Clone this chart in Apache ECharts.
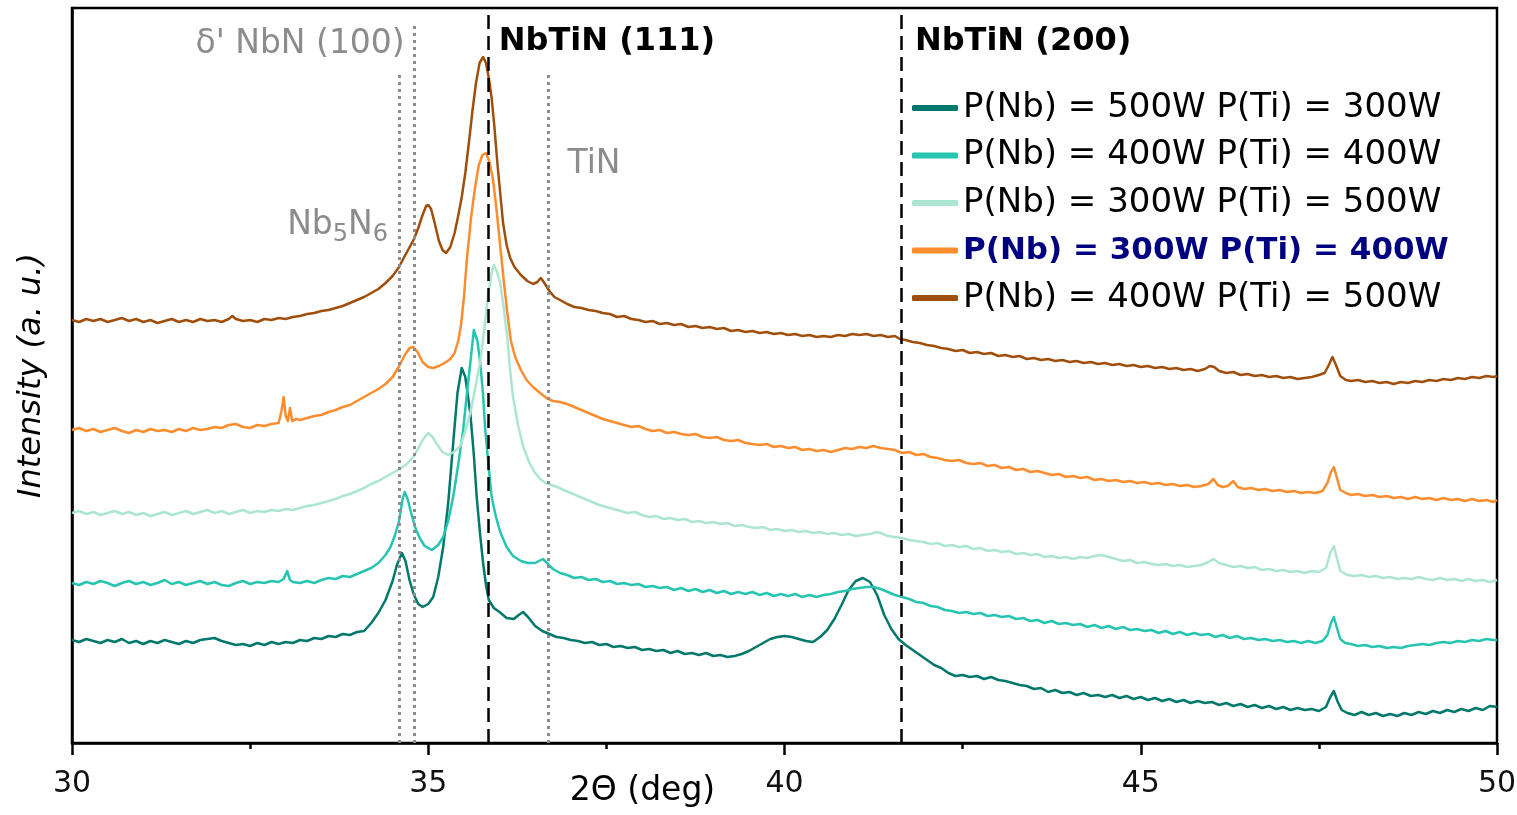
<!DOCTYPE html>
<html><head><meta charset="utf-8">
<script src="https://cdn.jsdelivr.net/npm/echarts@6/dist/echarts.min.js"></script>
<style>html,body{margin:0;padding:0;background:#fff}#chart{width:1517px;height:815px}</style>
</head><body><div id="chart"></div>
<script>
// ---- DATA (2θ in degrees, intensity in arbitrary units) ----
const legendNames = [
  'P(Nb) = 500W P(Ti) = 300W',
  'P(Nb) = 400W P(Ti) = 400W',
  'P(Nb) = 300W P(Ti) = 500W',
  'P(Nb) = 300W P(Ti) = 400W',
  'P(Nb) = 400W P(Ti) = 500W'
];

const s500_300 = [[30.0,103],[30.1,101],[30.2,104],[30.3,102],[30.4,100],[30.5,103],[30.6,101],[30.7,104],[30.8,100],[30.9,102],[31.0,99],[31.1,102],[31.2,100],[31.3,103],[31.4,101],[31.5,99],[31.6,102],[31.7,100],[31.8,103],[31.9,104],[32.0,105],[32.1,102],[32.2,100],[32.3,98],[32.4,99],[32.5,97],[32.6,100],[32.7,98],[32.8,101],[32.9,99],[33.0,101],[33.1,100],[33.2,103],[33.3,102],[33.4,105],[33.5,104],[33.6,107],[33.7,106],[33.8,109],[33.9,108],[34.0,111],[34.1,112],[34.2,120],[34.3,130],[34.4,143],[34.5,162],[34.56,178],[34.63,190],[34.68,182],[34.74,162],[34.8,148],[34.86,139],[34.92,136],[35.0,139],[35.07,146],[35.14,166],[35.21,196],[35.28,240],[35.35,300],[35.41,350],[35.47,375],[35.52,366],[35.59,330],[35.64,288],[35.68,246],[35.73,207],[35.77,180],[35.81,158],[35.85,143],[35.92,135],[36.0,131],[36.1,125],[36.2,124],[36.27,128],[36.33,131],[36.4,126],[36.5,117],[36.6,112],[36.7,109],[36.8,106],[36.9,105],[37.0,103],[37.1,102],[37.2,100],[37.3,101],[37.4,98],[37.5,99],[37.6,96],[37.7,97],[37.8,95],[37.9,96],[38.0,93],[38.1,94],[38.2,92],[38.3,93],[38.4,90],[38.5,92],[38.6,89],[38.7,90],[38.8,88],[38.9,90],[39.0,87],[39.1,88],[39.2,86],[39.3,87],[39.4,89],[39.5,92],[39.6,96],[39.7,100],[39.8,104],[39.9,106],[40.0,107],[40.1,106],[40.2,104],[40.3,102],[40.4,101],[40.5,106],[40.6,113],[40.7,124],[40.8,138],[40.9,153],[41.0,162],[41.1,165],[41.2,161],[41.3,148],[41.4,128],[41.5,114],[41.6,104],[41.7,98],[41.8,93],[41.9,88],[42.0,83],[42.1,78],[42.2,75],[42.3,70],[42.4,67],[42.5,68],[42.6,66],[42.7,67],[42.8,64],[42.9,66],[43.0,63],[43.1,62],[43.2,60],[43.3,58],[43.4,57],[43.5,54],[43.6,55],[43.7,51],[43.8,53],[43.9,50],[44.0,51],[44.1,48],[44.2,50],[44.3,47],[44.4,48],[44.5,46],[44.6,48],[44.7,45],[44.8,47],[44.9,44],[45.0,46],[45.1,43],[45.2,45],[45.3,42],[45.4,44],[45.5,41],[45.6,43],[45.7,40],[45.8,42],[45.9,40],[46.0,41],[46.1,38],[46.2,40],[46.3,37],[46.4,39],[46.5,36],[46.6,38],[46.7,35],[46.8,37],[46.9,34],[47.0,36],[47.1,33],[47.2,35],[47.3,33],[47.4,34],[47.5,32],[47.6,36],[47.66,46],[47.71,52],[47.76,42],[47.82,33],[47.9,30],[48.0,28],[48.1,31],[48.2,28],[48.3,30],[48.4,27],[48.5,29],[48.6,27],[48.7,30],[48.8,28],[48.9,31],[49.0,29],[49.1,32],[49.2,30],[49.3,33],[49.4,31],[49.5,34],[49.6,32],[49.7,35],[49.8,33],[49.9,37],[50.0,36]];

const s400_400 = [[30.0,160],[30.1,158],[30.2,161],[30.3,159],[30.4,162],[30.5,160],[30.6,157],[30.7,160],[30.8,162],[30.9,159],[31.0,161],[31.1,158],[31.2,160],[31.3,163],[31.4,159],[31.5,161],[31.6,158],[31.7,160],[31.8,162],[31.9,159],[32.0,161],[32.1,158],[32.2,157],[32.3,160],[32.4,162],[32.5,159],[32.6,161],[32.7,160],[32.8,162],[32.9,161],[32.97,164],[33.02,172],[33.06,163],[33.1,161],[33.2,160],[33.3,162],[33.4,160],[33.5,163],[33.6,165],[33.7,164],[33.8,167],[33.9,166],[34.0,169],[34.1,172],[34.2,175],[34.3,180],[34.4,188],[34.47,196],[34.53,207],[34.59,222],[34.64,244],[34.67,251],[34.71,244],[34.76,230],[34.82,215],[34.88,205],[34.95,197],[35.05,193],[35.14,198],[35.21,206],[35.28,222],[35.35,246],[35.42,278],[35.49,313],[35.54,348],[35.59,380],[35.64,413],[35.69,402],[35.73,380],[35.77,348],[35.8,313],[35.85,275],[35.89,246],[35.95,226],[36.01,211],[36.1,196],[36.19,187],[36.3,182],[36.4,180],[36.5,180],[36.61,184],[36.68,179],[36.75,174],[36.85,170],[36.95,168],[37.05,165],[37.15,166],[37.25,163],[37.35,164],[37.45,161],[37.55,162],[37.65,159],[37.75,160],[37.85,158],[37.95,159],[38.05,156],[38.15,157],[38.25,155],[38.35,156],[38.45,153],[38.55,155],[38.65,152],[38.75,154],[38.85,151],[38.95,153],[39.05,150],[39.15,152],[39.25,149],[39.35,151],[39.45,149],[39.55,151],[39.65,148],[39.75,150],[39.85,147],[39.95,149],[40.05,147],[40.15,149],[40.25,146],[40.35,148],[40.45,146],[40.55,148],[40.65,149],[40.75,151],[40.85,152],[40.95,154],[41.05,155],[41.15,156],[41.25,156],[41.35,154],[41.45,151],[41.55,148],[41.65,146],[41.75,144],[41.85,141],[41.95,140],[42.05,137],[42.15,136],[42.25,133],[42.35,132],[42.45,130],[42.55,131],[42.65,129],[42.75,130],[42.85,127],[42.95,128],[43.05,126],[43.15,127],[43.25,124],[43.35,125],[43.45,122],[43.55,123],[43.65,120],[43.75,122],[43.85,119],[43.95,120],[44.05,118],[44.15,119],[44.25,116],[44.35,118],[44.45,115],[44.55,117],[44.65,114],[44.75,116],[44.85,113],[44.95,114],[45.05,112],[45.15,113],[45.25,110],[45.35,112],[45.45,109],[45.55,111],[45.65,108],[45.75,110],[45.85,108],[45.95,109],[46.05,106],[46.15,108],[46.25,105],[46.35,107],[46.45,104],[46.55,105],[46.65,103],[46.75,104],[46.85,102],[46.95,103],[47.05,101],[47.15,102],[47.25,100],[47.35,102],[47.45,100],[47.55,102],[47.62,108],[47.67,120],[47.71,126],[47.75,116],[47.8,104],[47.87,100],[47.95,99],[48.05,97],[48.15,98],[48.25,96],[48.35,97],[48.45,95],[48.55,96],[48.65,95],[48.75,97],[48.85,98],[48.95,99],[49.05,98],[49.15,100],[49.25,101],[49.35,100],[49.45,102],[49.55,101],[49.65,103],[49.75,102],[49.85,104],[49.95,103],[50.0,103]];

const s300_500 = [[30.0,230],[30.1,232],[30.2,229],[30.3,231],[30.4,228],[30.5,230],[30.6,232],[30.7,229],[30.8,231],[30.9,228],[31.0,230],[31.1,227],[31.2,229],[31.3,231],[31.4,228],[31.5,230],[31.6,232],[31.7,229],[31.8,231],[31.9,233],[32.0,230],[32.1,232],[32.2,229],[32.3,231],[32.4,233],[32.5,230],[32.6,232],[32.7,231],[32.8,233],[32.9,232],[33.0,234],[33.1,233],[33.2,235],[33.3,237],[33.4,238],[33.5,240],[33.6,242],[33.7,244],[33.8,247],[33.9,249],[34.0,252],[34.1,255],[34.2,259],[34.3,262],[34.4,266],[34.5,270],[34.6,274],[34.7,279],[34.8,287],[34.87,296],[34.93,304],[35.0,310],[35.06,306],[35.12,299],[35.2,291],[35.28,288],[35.36,291],[35.45,297],[35.52,312],[35.59,330],[35.66,355],[35.73,382],[35.78,410],[35.84,448],[35.89,470],[35.92,478],[35.96,472],[36.01,460],[36.06,435],[36.11,405],[36.15,372],[36.19,346],[36.26,318],[36.33,297],[36.42,280],[36.5,270],[36.57,264],[36.65,260],[36.73,258],[36.81,256],[36.9,253],[37.0,250],[37.1,247],[37.2,244],[37.3,241],[37.4,238],[37.5,236],[37.6,234],[37.7,232],[37.8,230],[37.9,231],[38.0,228],[38.1,226],[38.2,227],[38.3,224],[38.4,225],[38.5,223],[38.6,224],[38.7,221],[38.8,222],[38.9,220],[39.0,221],[39.1,219],[39.2,220],[39.3,217],[39.4,218],[39.5,216],[39.6,215],[39.7,216],[39.8,213],[39.9,214],[40.0,212],[40.1,213],[40.2,211],[40.3,212],[40.4,210],[40.5,211],[40.6,209],[40.7,210],[40.8,208],[40.9,209],[41.0,207],[41.1,208],[41.2,209],[41.3,211],[41.35,210],[41.45,207],[41.55,206],[41.65,205],[41.75,203],[41.85,202],[41.95,201],[42.05,199],[42.15,200],[42.25,197],[42.35,198],[42.45,196],[42.55,197],[42.65,194],[42.75,195],[42.85,192],[42.95,193],[43.05,191],[43.15,192],[43.25,189],[43.35,190],[43.45,188],[43.55,189],[43.65,186],[43.75,187],[43.85,185],[43.95,186],[44.05,184],[44.15,186],[44.25,185],[44.35,187],[44.45,188],[44.55,186],[44.65,184],[44.75,182],[44.85,183],[44.95,180],[45.05,181],[45.15,179],[45.25,178],[45.35,179],[45.45,177],[45.55,178],[45.65,176],[45.75,177],[45.85,178],[45.95,181],[46.02,184],[46.1,180],[46.2,178],[46.3,176],[46.4,177],[46.5,175],[46.6,176],[46.7,173],[46.8,174],[46.9,172],[47.0,173],[47.1,171],[47.2,172],[47.3,170],[47.4,172],[47.5,171],[47.6,175],[47.66,190],[47.71,197],[47.75,186],[47.8,172],[47.9,168],[48.0,167],[48.1,168],[48.2,166],[48.3,167],[48.4,165],[48.5,166],[48.6,164],[48.7,165],[48.8,164],[48.9,166],[49.0,164],[49.1,163],[49.2,165],[49.3,163],[49.4,164],[49.5,162],[49.6,164],[49.7,162],[49.8,163],[49.9,161],[50.0,163]];

const s300_400 = [[30.0,313],[30.1,315],[30.2,312],[30.3,314],[30.4,311],[30.5,313],[30.6,315],[30.7,312],[30.8,310],[30.9,313],[31.0,311],[31.1,314],[31.2,312],[31.3,313],[31.4,311],[31.5,314],[31.6,312],[31.7,315],[31.8,313],[31.9,314],[32.0,316],[32.1,315],[32.2,318],[32.3,319],[32.4,316],[32.5,315],[32.6,318],[32.7,317],[32.8,319],[32.9,320],[32.94,332],[32.97,346],[33.0,327],[33.03,322],[33.06,335],[33.09,322],[33.15,324],[33.2,323],[33.3,325],[33.4,327],[33.5,328],[33.6,331],[33.7,333],[33.8,336],[33.9,338],[34.0,342],[34.1,346],[34.2,350],[34.3,354],[34.4,359],[34.5,366],[34.6,378],[34.67,388],[34.74,395],[34.79,396],[34.85,391],[34.92,381],[35.0,376],[35.07,375],[35.15,377],[35.23,380],[35.31,384],[35.37,390],[35.42,402],[35.46,418],[35.5,445],[35.54,482],[35.6,525],[35.66,557],[35.71,578],[35.76,588],[35.81,590],[35.86,581],[35.91,563],[35.96,532],[36.01,497],[36.06,462],[36.11,430],[36.16,402],[36.22,386],[36.3,373],[36.38,363],[36.47,356],[36.57,350],[36.66,345],[36.75,342],[36.85,341],[36.95,339],[37.05,336],[37.15,333],[37.25,330],[37.35,327],[37.45,324],[37.55,322],[37.65,320],[37.75,318],[37.85,316],[37.95,317],[38.05,314],[38.15,312],[38.25,313],[38.35,310],[38.45,311],[38.55,309],[38.65,308],[38.75,309],[38.85,306],[38.95,305],[39.05,306],[39.15,303],[39.25,302],[39.35,303],[39.45,300],[39.55,299],[39.65,298],[39.75,299],[39.85,296],[39.95,297],[40.05,295],[40.15,296],[40.25,293],[40.35,294],[40.45,292],[40.55,293],[40.65,291],[40.75,293],[40.85,295],[40.95,294],[41.05,296],[41.15,295],[41.25,297],[41.35,295],[41.45,294],[41.55,293],[41.65,290],[41.75,291],[41.85,288],[41.95,289],[42.05,286],[42.15,285],[42.25,283],[42.35,282],[42.45,283],[42.55,280],[42.65,279],[42.75,280],[42.85,277],[42.95,278],[43.05,275],[43.15,276],[43.25,273],[43.35,274],[43.45,271],[43.55,272],[43.65,270],[43.75,268],[43.85,269],[43.95,266],[44.05,267],[44.15,265],[44.25,266],[44.35,263],[44.45,264],[44.55,262],[44.65,263],[44.75,261],[44.85,262],[44.95,260],[45.05,261],[45.15,259],[45.25,260],[45.35,258],[45.45,259],[45.55,257],[45.65,258],[45.75,256],[45.85,257],[45.95,259],[46.02,264],[46.08,258],[46.15,256],[46.22,257],[46.3,262],[46.36,256],[46.45,254],[46.55,255],[46.65,253],[46.75,254],[46.85,252],[46.95,253],[47.05,251],[47.15,252],[47.25,250],[47.35,251],[47.45,250],[47.55,252],[47.62,260],[47.67,271],[47.71,276],[47.75,266],[47.8,253],[47.88,250],[47.95,248],[48.05,249],[48.15,247],[48.25,248],[48.35,246],[48.45,247],[48.55,245],[48.65,246],[48.75,244],[48.85,246],[48.95,244],[49.05,245],[49.15,243],[49.25,245],[49.35,243],[49.45,244],[49.55,242],[49.65,244],[49.75,242],[49.85,243],[49.95,241],[50.0,243]];

const s400_500 = [[30.0,423],[30.1,421],[30.2,424],[30.3,422],[30.4,424],[30.5,421],[30.6,423],[30.7,425],[30.8,422],[30.9,424],[31.0,421],[31.1,423],[31.2,420],[31.3,422],[31.4,424],[31.5,421],[31.6,423],[31.7,421],[31.8,424],[31.9,422],[32.0,423],[32.1,421],[32.2,424],[32.25,427],[32.3,424],[32.4,422],[32.5,423],[32.6,421],[32.7,424],[32.8,423],[32.9,425],[33.0,424],[33.1,426],[33.2,427],[33.3,429],[33.4,430],[33.5,432],[33.6,433],[33.7,435],[33.8,437],[33.9,440],[34.0,443],[34.1,446],[34.2,450],[34.3,454],[34.4,460],[34.5,467],[34.59,476],[34.67,487],[34.74,496],[34.8,504],[34.86,515],[34.92,528],[34.97,537],[35.0,538],[35.04,534],[35.09,520],[35.15,502],[35.2,493],[35.25,490],[35.31,496],[35.37,510],[35.42,527],[35.47,546],[35.52,570],[35.57,600],[35.62,632],[35.67,660],[35.72,680],[35.77,686],[35.81,680],[35.85,665],[35.89,645],[35.93,615],[35.97,580],[36.01,550],[36.05,520],[36.1,498],[36.15,485],[36.21,476],[36.3,468],[36.39,462],[36.47,459],[36.53,461],[36.58,465],[36.63,460],[36.7,452],[36.77,446],[36.85,443],[36.95,439],[37.05,436],[37.15,435],[37.25,433],[37.35,432],[37.45,430],[37.55,429],[37.65,426],[37.75,427],[37.85,424],[37.95,423],[38.05,421],[38.15,422],[38.25,419],[38.35,420],[38.45,418],[38.55,419],[38.65,416],[38.75,417],[38.85,415],[38.95,416],[39.05,414],[39.15,415],[39.25,412],[39.35,413],[39.45,411],[39.55,412],[39.65,410],[39.75,411],[39.85,409],[39.95,410],[40.05,408],[40.15,409],[40.25,407],[40.35,408],[40.45,406],[40.55,407],[40.65,406],[40.75,408],[40.85,407],[40.95,409],[41.05,408],[41.15,409],[41.25,407],[41.35,408],[41.45,406],[41.55,407],[41.62,404],[41.7,403],[41.8,401],[41.9,400],[42.0,398],[42.1,397],[42.2,395],[42.3,394],[42.4,392],[42.5,393],[42.6,390],[42.7,391],[42.8,389],[42.9,390],[43.0,387],[43.1,388],[43.2,386],[43.3,387],[43.4,384],[43.5,385],[43.6,383],[43.7,384],[43.8,382],[43.9,383],[44.0,381],[44.1,382],[44.2,380],[44.3,381],[44.4,379],[44.5,380],[44.6,378],[44.7,379],[44.8,377],[44.9,378],[45.0,376],[45.1,377],[45.2,375],[45.3,376],[45.4,374],[45.5,375],[45.6,373],[45.7,374],[45.8,372],[45.9,374],[45.97,377],[46.03,376],[46.1,372],[46.2,370],[46.3,371],[46.4,368],[46.5,369],[46.6,367],[46.7,368],[46.8,366],[46.9,367],[47.0,365],[47.1,366],[47.2,364],[47.3,365],[47.4,366],[47.5,368],[47.58,370],[47.64,378],[47.69,386],[47.74,378],[47.8,367],[47.88,363],[47.95,362],[48.05,363],[48.15,361],[48.25,362],[48.35,360],[48.45,361],[48.55,359],[48.65,361],[48.75,360],[48.85,362],[48.95,361],[49.05,363],[49.15,362],[49.25,364],[49.35,363],[49.45,365],[49.55,364],[49.65,366],[49.75,365],[49.85,367],[49.95,366],[50.0,367]];

// reference peak positions (2θ) and how high each marker line reaches
const refX    = [34.59, 34.80, 36.69, 35.84, 41.64];
const refTop  = [670, 721, 670, 728, 729];
const refKind = ['dotted', 'dotted', 'dotted', 'dashed', 'dashed'];

// annotation texts
const annTexts = ["δ' NbN (100)", 'NbTiN (111)', 'NbTiN (200)', 'TiN', '{m|Nb}{s|5}{m|N}{s|6}'];

// ---- STYLE / LAYOUT ----
const FONT = 'DejaVu Sans';
const colors = ['#00786b', '#27c4b2', '#ace6d3', '#fc8d2e', '#a04e0c'];
const GRAY = '#8c8c8c';
const annPos = [
  {x: 34.67, y: 699, align: 'right', size: 33, weight: 'normal', color: GRAY},
  {x: 35.99, y: 701, align: 'left', size: 32, weight: 'bold', color: '#000'},
  {x: 41.83, y: 701, align: 'left', size: 32, weight: 'bold', color: '#000'},
  {x: 36.955, y: 579, align: 'left', size: 33, weight: 'normal', color: GRAY},
  {x: 34.435, y: 518, align: 'right', size: 33, weight: 'normal', color: GRAY}
];

const chart = echarts.init(document.getElementById('chart'), null, {renderer: 'canvas'});
const dataList = [s500_300, s400_400, s300_500, s300_400, s400_500];

const series = dataList.map((d, i) => ({
  name: legendNames[i], type: 'line', data: d, symbol: 'none', showSymbol: false,
  lineStyle: {width: 2.5, color: colors[i], join: 'round'}, itemStyle: {color: colors[i]},
  animation: false, z: 3
}));
series.push({
  type: 'line', data: [], z: 5, animation: false,
  markLine: {
    silent: true, symbol: ['none', 'none'], label: {show: false}, animation: false,
    data: refX.map((x, i) => [
      {coord: [x, 0], lineStyle: refKind[i] === 'dotted'
        ? {type: [3, 4], color: GRAY, width: 3}
        : {type: [14, 7], color: '#000', width: 2.5}},
      {coord: [x, refTop[i]]}
    ])
  }
});

const legendData = legendNames.map((n, i) => i === 3
  ? {name: n, textStyle: {color: '#000080', fontWeight: 'bold', fontSize: 31}}
  : {name: n});

chart.setOption({
  backgroundColor: '#fff',
  animation: false,
  grid: {left: 72, right: 20, top: 8, bottom: 72, containLabel: false, outerBoundsMode: 'none',
         show: true, borderColor: '#000', borderWidth: 2.5, backgroundColor: 'transparent'},
  legend: {
    data: legendData, orient: 'vertical', left: 907, top: 83,
    itemWidth: 46, itemHeight: 6, itemGap: 7.5, icon: 'roundRect',
    textStyle: {fontFamily: FONT, fontSize: 34, color: '#000', lineHeight: 40},
    selectedMode: false
  },
  xAxis: {
    type: 'value', min: 30, max: 50, interval: 5,
    name: '2Θ (deg)', nameLocation: 'middle', nameGap: 32, nameMoveOverlap: false,
    nameTextStyle: {fontFamily: FONT, fontSize: 33, color: '#000', padding: [0, 284, 0, 0]},
    axisLine: {show: true, lineStyle: {color: '#000', width: 2.5}},
    axisTick: {show: true, inside: false, length: 12, lineStyle: {color: '#000', width: 2.5}},
    minorTick: {show: true, splitNumber: 2, length: 6, lineStyle: {color: '#000', width: 2.5}},
    axisLabel: {fontFamily: FONT, fontSize: 30, color: '#111', margin: 26},
    splitLine: {show: false}
  },
  yAxis: {
    type: 'value', min: 0, max: 735,
    name: 'Intensity (a. u.)', nameLocation: 'middle', nameGap: 24, nameMoveOverlap: false,
    nameTextStyle: {fontFamily: FONT, fontSize: 32, fontStyle: 'italic', color: '#000'},
    axisLine: {show: true, lineStyle: {color: '#000', width: 2.5}},
    axisTick: {show: false}, axisLabel: {show: false}, splitLine: {show: false}
  },
  series: series
});

const graphics = annTexts.map((t, i) => {
  const a = annPos[i];
  const p = chart.convertToPixel({xAxisIndex: 0, yAxisIndex: 0}, [a.x, a.y]);
  const style = {
    text: t, fill: a.color, fontFamily: FONT, fontSize: a.size, fontWeight: a.weight,
    align: a.align, verticalAlign: 'middle'
  };
  if (t.indexOf('{m|') === 0) {
    style.rich = {
      m: {fontFamily: FONT, fontSize: 33, fill: a.color, color: a.color, lineHeight: 44},
      s: {fontFamily: FONT, fontSize: 24, fill: a.color, color: a.color, lineHeight: 22, verticalAlign: 'bottom'}
    };
  }
  return {type: 'text', x: p[0], y: p[1], z: 10, silent: true, style: style};
});
chart.setOption({graphic: graphics});
</script>
</body></html>
